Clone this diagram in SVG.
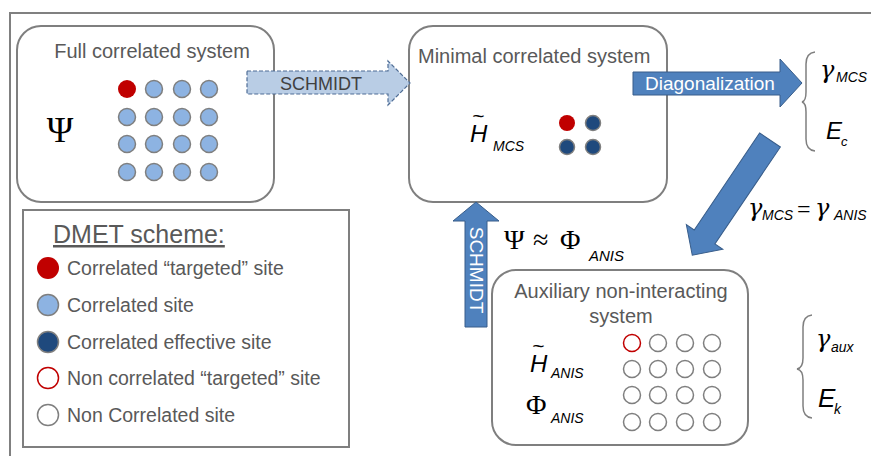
<svg xmlns="http://www.w3.org/2000/svg" width="871" height="456" viewBox="0 0 871 456">
<style>
.box{fill:#fff;stroke:#7f7f7f;stroke-width:2}
.ttl{font-family:"Liberation Sans",Arial,sans-serif;font-size:20px;fill:#595959}
.leg{font-family:"Liberation Sans",Arial,sans-serif;font-size:19.5px;fill:#595959}
.red{fill:#c00000}
.lb{fill:#8db3e2;stroke:#7f7f7f;stroke-width:1.5}
.db{fill:#1f497d;stroke:#7f7f7f;stroke-width:1.5}
.hr{fill:#fff;stroke:#c00000;stroke-width:1.5}
.hg{fill:#fff;stroke:#7f7f7f;stroke-width:1.5}
.arr{fill:#4f81bd;stroke:#385d8a;stroke-width:1}
.wt{font-family:"Liberation Sans",Arial,sans-serif;font-size:19px;fill:#fff}
.sym{font-family:"Liberation Serif","Times New Roman",serif;fill:#000}
.it{font-family:"Liberation Sans",Arial,sans-serif;font-style:italic;fill:#000}
.gam{font-family:"DejaVu Serif","Liberation Serif",serif;font-style:italic;fill:#000}
.brace{fill:none;stroke:#7f7f7f;stroke-width:1.5}
</style>
<rect width="871" height="456" fill="#fff"/>
<path d="M10,456 V13 H871" fill="none" stroke="#808080" stroke-width="2"/>

<g id="full-system">
<rect class="box" x="17" y="26" width="257" height="176" rx="24"/>
<text class="ttl" x="152" y="58" text-anchor="middle">Full correlated system</text>
<text class="sym" x="60" y="142" font-size="36" text-anchor="middle">Ψ</text>
<circle class="red" cx="127" cy="89" r="9"/>
<circle class="lb" cx="154" cy="89" r="8.5"/><circle class="lb" cx="182" cy="89" r="8.5"/><circle class="lb" cx="209" cy="89" r="8.5"/>
<circle class="lb" cx="127" cy="117" r="8.5"/><circle class="lb" cx="154" cy="117" r="8.5"/><circle class="lb" cx="182" cy="117" r="8.5"/><circle class="lb" cx="209" cy="117" r="8.5"/>
<circle class="lb" cx="127" cy="144" r="8.5"/><circle class="lb" cx="154" cy="144" r="8.5"/><circle class="lb" cx="182" cy="144" r="8.5"/><circle class="lb" cx="209" cy="144" r="8.5"/>
<circle class="lb" cx="127" cy="172" r="8.5"/><circle class="lb" cx="154" cy="172" r="8.5"/><circle class="lb" cx="182" cy="172" r="8.5"/><circle class="lb" cx="209" cy="172" r="8.5"/>
</g>

<g id="minimal-system">
<rect class="box" x="409" y="26" width="258" height="176" rx="24"/>
<text class="ttl" x="418" y="63">Minimal correlated system</text>
<text class="it" x="470" y="142" font-size="24">H</text>
<text class="it" x="472" y="123" font-size="21">~</text>
<text class="it" x="493" y="151" font-size="14">MCS</text>
<circle class="red" cx="567" cy="123" r="8"/>
<circle class="db" cx="593" cy="123" r="7.5"/>
<circle class="db" cx="567" cy="147" r="7.5"/>
<circle class="db" cx="593" cy="147" r="7.5"/>
</g>

<g id="aux-system">
<rect class="box" x="492" y="270" width="256" height="175" rx="24"/>
<text class="ttl" x="621" y="298" text-anchor="middle">Auxiliary non-interacting</text>
<text class="ttl" x="621" y="323" text-anchor="middle">system</text>
<text class="it" x="530" y="372" font-size="24">H</text>
<text class="it" x="532" y="353" font-size="21">~</text>
<text class="it" x="551" y="378" font-size="14">ANIS</text>
<text class="sym" x="526" y="414" font-size="28">Φ</text>
<text class="it" x="551" y="423" font-size="14">ANIS</text>
<circle class="hr" cx="632" cy="343" r="8.5"/><circle class="hg" cx="658" cy="343" r="8.5"/><circle class="hg" cx="685" cy="343" r="8.5"/><circle class="hg" cx="712" cy="343" r="8.5"/>
<circle class="hg" cx="632" cy="369" r="8.5"/><circle class="hg" cx="658" cy="369" r="8.5"/><circle class="hg" cx="685" cy="369" r="8.5"/><circle class="hg" cx="712" cy="369" r="8.5"/>
<circle class="hg" cx="632" cy="395" r="8.5"/><circle class="hg" cx="658" cy="395" r="8.5"/><circle class="hg" cx="685" cy="395" r="8.5"/><circle class="hg" cx="712" cy="395" r="8.5"/>
<circle class="hg" cx="632" cy="422" r="8.5"/><circle class="hg" cx="658" cy="422" r="8.5"/><circle class="hg" cx="685" cy="422" r="8.5"/><circle class="hg" cx="712" cy="422" r="8.5"/>
</g>

<g id="legend">
<rect x="23" y="210" width="326" height="237" fill="#fff" stroke="#7f7f7f" stroke-width="2"/>
<text x="53" y="243" font-family="'Liberation Sans',Arial,sans-serif" font-size="25" fill="#595959" text-decoration="underline">DMET scheme:</text>
<circle class="red" cx="48" cy="268" r="11"/>
<text class="leg" x="67" y="275">Correlated “targeted” site</text>
<circle class="lb" cx="48" cy="305" r="10.5"/>
<text class="leg" x="67" y="312">Correlated site</text>
<circle class="db" cx="48" cy="342" r="10.5"/>
<text class="leg" x="67" y="349">Correlated effective site</text>
<circle class="hr" cx="48" cy="378" r="10.5"/>
<text class="leg" x="67" y="385">Non correlated “targeted” site</text>
<circle class="hg" cx="48" cy="415" r="10.5"/>
<text class="leg" x="67" y="422">Non Correlated site</text>
</g>

<g id="results-mcs">
<path class="brace" d="M815,52 Q806,53 806,64 V92 Q806,101 802,102 Q806,103 806,112 V139 Q806,150 815,151"/>
<text class="gam" x="820" y="78" font-size="24">γ</text>
<text class="it" x="836" y="82" font-size="14">MCS</text>
<text class="it" x="826" y="139" font-size="24">E</text>
<text class="it" x="841" y="146" font-size="13">c</text>
</g>

<g id="results-aux">
<path class="brace" d="M812,315 Q803,316 803,327 V358 Q803,368 797,369 Q803,370 803,380 V406 Q803,417 812,418"/>
<text class="gam" x="816" y="347" font-size="24">γ</text>
<text class="it" x="831" y="352" font-size="14">aux</text>
<text class="it" x="818" y="407" font-size="26">E</text>
<text class="it" x="834" y="414" font-size="14">k</text>
</g>

<g id="connectors">
<path d="M247,71 H388 V61 L410,83 L388,105 V94 H247 Z" fill="#b9cde5" stroke="#4f6d95" stroke-width="1.2" stroke-dasharray="4,2"/>
<text x="280" y="90" font-family="'Liberation Sans',Arial,sans-serif" font-size="18" fill="#404040">SCHMIDT</text>

<path class="arr" d="M633,72 H780 V59 L802,83 L780,107 V95 H633 Z"/>
<text class="wt" x="645" y="90">Diagonalization</text>

<path class="arr" transform="translate(770,140) rotate(124)" d="M0,-12.5 H117 V-22 L139,0 L117,22 V12.5 H0 Z"/>

<path class="arr" d="M465,327 V221 H453 L476,202 L499,221 H487 V327 Z"/>
<text class="wt" transform="translate(469.5,270) rotate(90)" text-anchor="middle" font-size="18">SCHMIDT</text>

<text class="sym" x="504" y="249" font-size="28">Ψ</text>
<text class="sym" x="533" y="249" font-size="28">≈</text>
<text class="sym" x="560" y="249" font-size="28">Φ</text>
<text class="it" x="589" y="261" font-size="15">ANIS</text>

<text class="gam" x="748" y="216" font-size="24">γ</text>
<text class="it" x="762" y="220" font-size="14">MCS</text>
<text class="sym" x="797" y="217" font-size="24">=</text>
<text class="gam" x="815" y="216" font-size="24">γ</text>
<text class="it" x="834" y="220" font-size="14">ANIS</text>
</g>
</svg>
